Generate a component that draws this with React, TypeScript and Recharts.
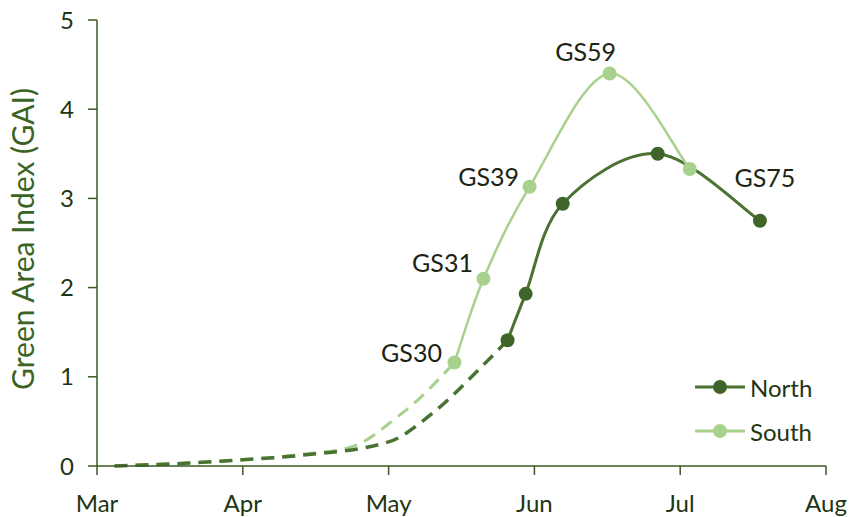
import { LabelList, Line, LineChart, XAxis, YAxis } from "recharts";

// x is months after 1 Mar (0 = Mar, 5 = Aug), y is GAI
const months = ["Mar", "Apr", "May", "Jun", "Jul", "Aug"];
const monthTicks = [0, 1, 2, 3, 4, 5];
const gaiTicks = [0, 1, 2, 3, 4, 5];

const northX = [2.816, 2.94, 3.194, 3.846, 4.547];
const northGai = [1.41, 1.93, 2.94, 3.5, 2.75];
const northStage = ["", "", "", "", "GS75"];

const southX = [2.452, 2.651, 2.967, 3.516, 4.066];
const southGai = [1.16, 2.1, 3.13, 4.4, 3.33];
const southStage = ["GS30", "GS31", "GS39", "GS59", ""];

// dashed early-season estimates
const northEarlyX = [0.12, 0.6, 1.0, 1.4, 2.0, 2.3, 2.63, 2.816];
const northEarlyGai = [0, 0.03, 0.07, 0.12, 0.27, 0.59, 1.1, 1.41];
const southEarlyX = [0.12, 0.6, 1.0, 1.4, 1.74, 2.06, 2.22, 2.36, 2.452];
const southEarlyGai = [0, 0.03, 0.07, 0.13, 0.21, 0.55, 0.77, 1.0, 1.16];

const zip = (xs: number[], ys: number[], stages?: string[]) =>
  xs.map((x, i) => ({ x, y: ys[i], stage: stages ? stages[i] : "" }));

const north = zip(northX, northGai, northStage);
const south = zip(southX, southGai, southStage);
const northEarly = zip(northEarlyX, northEarlyGai);
const southEarly = zip(southEarlyX, southEarlyGai);

const DARK = "#4a7230";
const DARK_DOT = "#3f652a";
const LIGHT = "#a9d18e";
const AXIS = "#3a5a25";
const FONT = "Lato, 'Open Sans', sans-serif";

const tickStyle = { fill: "#1f3512", fontSize: 24, fontFamily: FONT };

// Excel-like smoothed line (Catmull-Rom through the points)
const smooth = (context: any) => {
  let pts: number[][] = [];
  return {
    areaStart() {},
    areaEnd() {},
    lineStart() {
      pts = [];
    },
    point(x: number, y: number) {
      pts.push([+x, +y]);
    },
    lineEnd() {
      if (!pts.length) return;
      context.moveTo(pts[0][0], pts[0][1]);
      for (let i = 0; i < pts.length - 1; i++) {
        const p0 = pts[i - 1] || pts[i];
        const p1 = pts[i];
        const p2 = pts[i + 1];
        const p3 = pts[i + 2] || p2;
        context.bezierCurveTo(
          p1[0] + (p2[0] - p0[0]) / 6,
          p1[1] + (p2[1] - p0[1]) / 6,
          p2[0] - (p3[0] - p1[0]) / 6,
          p2[1] - (p3[1] - p1[1]) / 6,
          p2[0],
          p2[1],
        );
      }
    },
  };
};

// label offsets from the point, per stage
const stageOffset: Record<string, [number, number]> = {
  GS30: [-43, -11],
  GS31: [-41, -17],
  GS39: [-41, -11],
  GS59: [-24, -23],
  GS75: [5, -44],
};

const renderStage = (props: any) => {
  const { x, y, value } = props;
  if (!value) return null;
  const [dx, dy] = stageOffset[value] ?? [0, -20];
  return (
    <text
      x={x + dx}
      y={y + dy}
      textAnchor="middle"
      dominantBaseline="central"
      fill="#1b2414"
      fontSize={25}
      fontFamily={FONT}
    >
      {value}
    </text>
  );
};

const legendItems = [
  { name: "North", color: DARK, dot: DARK_DOT },
  { name: "South", color: LIGHT, dot: LIGHT },
];

export default function App() {
  return (
    <div style={{ position: "relative", width: 851, height: 517, background: "#fff" }}>
      <style>{`body{margin:0}`}</style>
      <LineChart width={851} height={517} margin={{ top: 20, right: 25, bottom: 0, left: 0 }}>
        <XAxis
          type="number"
          dataKey="x"
          domain={[0, 5]}
          ticks={monthTicks}
          tickFormatter={(v: number) => months[v]}
          allowDuplicatedCategory={false}
          height={51}
          stroke={AXIS}
          strokeWidth={1.5}
          tickSize={9}
          tickMargin={20}
          tick={tickStyle}
          interval={0}
        />
        <YAxis
          type="number"
          domain={[0, 5]}
          ticks={gaiTicks}
          width={97}
          stroke={AXIS}
          strokeWidth={1.5}
          tickSize={9}
          tickMargin={14}
          tick={tickStyle}
          interval={0}
          label={{
            content: (p: any) => {
              const vb = p.viewBox || { y: 20, height: 446 };
              const cy = vb.y + vb.height / 2 - 4;
              return (
                <text
                  x={22}
                  y={cy}
                  transform={`rotate(-90, 22, ${cy})`}
                  textAnchor="middle"
                  dominantBaseline="central"
                  fill="#3b6424"
                  fontSize={30}
                  fontFamily={FONT}
                >
                  Green Area Index (GAI)
                </text>
              );
            },
          }}
        />
        <Line
          data={southEarly}
          dataKey="y"
          type="monotone"
          stroke={LIGHT}
          strokeWidth={3}
          strokeDasharray="13 8"
          dot={false}
          isAnimationActive={false}
        />
        <Line
          data={northEarly}
          dataKey="y"
          type="monotone"
          stroke={DARK}
          strokeWidth={3.5}
          strokeDasharray="13 8"
          dot={false}
          isAnimationActive={false}
        />
        <Line
          data={north}
          dataKey="y"
          name="North"
          type={smooth as any}
          stroke={DARK}
          strokeWidth={3}
          dot={{ r: 7, fill: DARK_DOT, stroke: DARK_DOT, strokeWidth: 0 }}
          isAnimationActive={false}
        >
          <LabelList dataKey="stage" content={renderStage} />
        </Line>
        <Line
          data={south}
          dataKey="y"
          name="South"
          type={smooth as any}
          stroke={LIGHT}
          strokeWidth={2.5}
          dot={{ r: 7, fill: LIGHT, stroke: LIGHT, strokeWidth: 0 }}
          isAnimationActive={false}
        >
          <LabelList dataKey="stage" content={renderStage} />
        </Line>
      </LineChart>
      <div
        style={{
          position: "absolute",
          left: 692,
          top: 365,
          fontFamily: FONT,
          fontSize: 24,
          color: "#1f3512",
        }}
      >
        {legendItems.map((s) => (
          <div key={s.name} style={{ display: "flex", alignItems: "center", height: 44 }}>
            <svg width={56} height={20}>
              <line x1={3} y1={10} x2={53} y2={10} stroke={s.color} strokeWidth={3} />
              <circle cx={28} cy={10} r={7} fill={s.dot} />
            </svg>
            <span style={{ marginLeft: 2 }}>{s.name}</span>
          </div>
        ))}
      </div>
    </div>
  );
}
